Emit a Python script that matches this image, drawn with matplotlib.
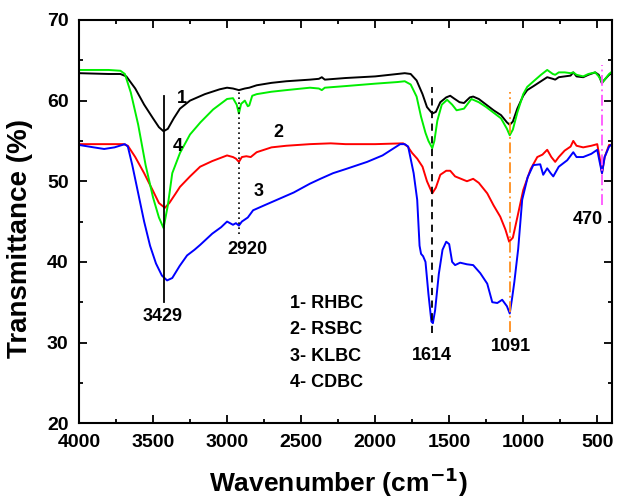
import matplotlib
matplotlib.use("Agg")
import matplotlib.pyplot as plt
from matplotlib.ticker import MultipleLocator

plt.rcParams['font.family'] = ['Liberation Sans', 'DejaVu Sans']
plt.rcParams['font.weight'] = 'bold'

# FTIR spectra, (wavenumber cm-1, transmittance %)
rhbc = [(4000, 63.4), (3800, 63.3), (3720, 63.3), (3680, 63.0), (3620, 61.5), (3560, 59.5),
        (3500, 57.8), (3460, 56.7), (3429, 56.2), (3400, 56.5), (3360, 57.8), (3318, 59.0),
        (3250, 60.0), (3150, 60.8), (3050, 61.4), (3000, 61.6), (2960, 61.5), (2920, 61.3),
        (2880, 61.5), (2850, 61.6), (2800, 61.9), (2700, 62.2), (2600, 62.4), (2440, 62.6),
        (2380, 62.7), (2360, 62.9), (2340, 62.6), (2200, 62.8), (2000, 63.0), (1850, 63.3),
        (1800, 63.4), (1760, 63.3), (1720, 62.5), (1680, 60.8), (1650, 59.2), (1614, 58.4),
        (1590, 58.6), (1560, 59.8), (1520, 60.4), (1493, 60.6), (1470, 60.3), (1430, 59.8),
        (1400, 59.7), (1360, 60.4), (1338, 60.5), (1300, 60.2), (1250, 59.5), (1200, 58.8),
        (1150, 58.2), (1110, 57.3), (1091, 57.0), (1070, 57.4), (1040, 59.0), (1000, 60.6),
        (973, 61.3), (930, 61.8), (880, 62.4), (838, 62.9), (800, 62.7), (784, 62.6),
        (760, 62.9), (720, 63.0), (680, 63.1), (662, 63.5), (640, 63.0), (595, 62.9),
        (560, 63.2), (514, 63.5), (490, 63.2), (470, 62.2), (450, 62.6), (420, 63.2), (400, 63.4)]

rsbc = [(4000, 54.6), (3800, 54.6), (3700, 54.6), (3670, 54.4), (3620, 53.0), (3560, 51.0),
        (3500, 48.8), (3460, 47.3), (3420, 46.7), (3390, 47.3), (3350, 48.4), (3318, 49.3),
        (3250, 50.6), (3182, 51.8), (3100, 52.5), (3000, 53.2), (2960, 53.0), (2940, 52.8),
        (2920, 52.4), (2900, 53.0), (2870, 53.1), (2840, 53.0), (2800, 53.6), (2700, 54.2),
        (2600, 54.4), (2440, 54.6), (2300, 54.7), (2200, 54.6), (2000, 54.6), (1811, 54.7),
        (1780, 54.3), (1750, 53.5), (1716, 52.8), (1680, 51.8), (1650, 50.0), (1614, 48.5),
        (1590, 49.2), (1560, 50.8), (1520, 51.3), (1493, 51.3), (1460, 50.6), (1420, 50.3),
        (1380, 50.0), (1338, 50.3), (1300, 49.8), (1243, 48.5), (1200, 47.0), (1155, 45.6),
        (1120, 44.0), (1095, 42.5), (1070, 43.0), (1040, 45.5), (1000, 48.9), (950, 51.5),
        (905, 53.0), (870, 53.3), (838, 53.9), (810, 53.0), (784, 52.4), (760, 53.0),
        (720, 53.8), (680, 54.3), (662, 55.0), (640, 54.4), (595, 54.2), (540, 54.4),
        (500, 54.6), (480, 52.5), (468, 51.0), (450, 53.0), (420, 54.5), (400, 54.5)]

klbc = [(4000, 54.5), (3900, 54.2), (3830, 54.0), (3760, 54.2), (3690, 54.6), (3670, 54.3),
        (3640, 52.0), (3600, 48.5), (3560, 45.0), (3520, 42.0), (3480, 39.8), (3440, 38.3),
        (3405, 37.7), (3370, 38.0), (3320, 39.5), (3270, 40.8), (3220, 41.5), (3182, 42.1),
        (3100, 43.5), (3040, 44.3), (3000, 45.0), (2960, 44.6), (2940, 44.8), (2920, 44.5),
        (2900, 45.0), (2860, 45.5), (2824, 46.4), (2750, 47.0), (2650, 47.8), (2550, 48.6),
        (2440, 49.7), (2370, 50.3), (2284, 51.0), (2200, 51.5), (2054, 52.4), (1950, 53.2),
        (1831, 54.6), (1800, 54.6), (1777, 54.3), (1740, 51.0), (1716, 47.7), (1700, 42.0),
        (1690, 41.0), (1676, 40.7), (1660, 40.0), (1640, 36.0), (1620, 32.6), (1610, 32.4),
        (1595, 34.0), (1570, 38.5), (1545, 41.5), (1520, 42.5), (1500, 42.2), (1480, 40.0),
        (1460, 39.6), (1426, 39.9), (1380, 39.7), (1338, 39.6), (1290, 38.6), (1243, 37.3),
        (1209, 35.0), (1175, 34.9), (1142, 35.3), (1110, 34.5), (1091, 33.6), (1075, 35.5),
        (1060, 37.5), (1034, 41.6), (1007, 47.7), (970, 50.5), (932, 52.0), (885, 52.1),
        (865, 50.8), (838, 51.6), (815, 51.0), (797, 50.6), (760, 51.8), (703, 52.6),
        (662, 53.6), (640, 53.0), (595, 53.0), (540, 53.4), (500, 53.9), (485, 52.5),
        (468, 51.0), (450, 53.0), (420, 54.3), (400, 54.6)]

cdbc = [(4000, 63.8), (3800, 63.8), (3720, 63.7), (3690, 63.3), (3650, 61.0), (3600, 57.0),
        (3550, 52.0), (3500, 48.0), (3460, 45.5), (3429, 44.2), (3400, 47.0), (3370, 51.0),
        (3318, 53.5), (3250, 55.8), (3180, 57.3), (3094, 58.9), (3000, 60.2), (2960, 60.3),
        (2935, 59.5), (2920, 58.4), (2905, 59.6), (2880, 60.0), (2860, 59.3), (2850, 59.4),
        (2830, 60.6), (2800, 60.8), (2700, 61.1), (2600, 61.3), (2440, 61.6), (2380, 61.5),
        (2360, 61.3), (2340, 61.6), (2200, 61.8), (2000, 62.1), (1850, 62.3), (1800, 62.4),
        (1760, 62.0), (1720, 60.5), (1690, 58.0), (1660, 56.0), (1640, 55.0), (1614, 54.1),
        (1600, 55.0), (1580, 57.5), (1550, 59.5), (1514, 60.1), (1480, 59.5), (1450, 58.8),
        (1400, 59.0), (1350, 60.2), (1300, 59.8), (1250, 59.2), (1200, 58.5), (1150, 57.8),
        (1110, 56.5), (1091, 55.7), (1070, 56.4), (1040, 58.5), (1000, 60.8), (973, 61.7),
        (930, 62.4), (880, 63.2), (838, 63.8), (800, 63.3), (784, 63.2), (760, 63.5),
        (720, 63.5), (680, 63.4), (662, 63.5), (640, 63.2), (595, 63.0), (560, 63.3),
        (514, 63.5), (490, 63.0), (466, 62.2), (450, 62.6), (420, 63.3), (400, 63.6)]

series = [(rhbc, 'black'), (rsbc, 'red'), (klbc, 'blue'), (cdbc, '#00ee00')]
legend_lines = ['1- RHBC', '2- RSBC', '3- KLBC', '4- CDBC']

fig = plt.figure(figsize=(6.17, 4.99), dpi=100)
ax = fig.add_axes([0.128, 0.152, 0.864, 0.808])

for data, col in series:
    xs = [p[0] for p in data]
    ys = [p[1] for p in data]
    ax.plot(xs, ys, color=col, lw=1.4)

# peak markers
ax.plot([3429, 3429], [35.0, 60.6], color='black', lw=1.3)
ax.plot([2920, 2920], [43.5, 61.5], color='black', lw=1.2, ls=(0, (1, 2)))
ax.plot([1614, 1614], [31.2, 61.7], color='black', lw=1.3, ls=(0, (4, 3)))
ax.plot([1091, 1091], [31.3, 61.1], color='#ff8c1a', lw=1.3, ls=(0, (6, 2, 1, 2)))
ax.plot([466, 466], [47.0, 64.4], color='#ff55ff', lw=1.3, ls=(0, (6, 2, 1, 2)))

fs = 13
ax.text(3305, 60.3, '1', fontsize=fs, fontweight='bold', ha='center', va='center')
ax.text(3330, 54.3, '4', fontsize=fs, fontweight='bold', ha='center', va='center')
ax.text(2655, 56.0, '2', fontsize=fs, fontweight='bold', ha='center', va='center')
ax.text(2790, 48.7, '3', fontsize=fs, fontweight='bold', ha='center', va='center')
ax.text(2865, 41.5, '2920', fontsize=fs, fontweight='bold', ha='center', va='center')
ax.text(3432, 33.2, '3429', fontsize=fs, fontweight='bold', ha='center', va='center')
ax.text(1615, 28.4, '1614', fontsize=fs, fontweight='bold', ha='center', va='center')
ax.text(1081, 29.5, '1091', fontsize=fs, fontweight='bold', ha='center', va='center')
ax.text(567, 45.3, '470', fontsize=fs, fontweight='bold', ha='center', va='center')

for i, s in enumerate(legend_lines):
    ax.text(2575, 34.9 - 3.3 * i, s, fontsize=fs, fontweight='bold', ha='left', va='center')

ax.set_xlim(4000, 400)
ax.set_ylim(20, 70)
ax.xaxis.set_major_locator(MultipleLocator(500))
ax.xaxis.set_minor_locator(MultipleLocator(250))
ax.yaxis.set_major_locator(MultipleLocator(10))
ax.yaxis.set_minor_locator(MultipleLocator(5))
ax.tick_params(which='both', direction='in', top=True, right=True, width=1.3, labelsize=14)
ax.tick_params(which='major', length=6)
ax.tick_params(which='minor', length=3)
ax.tick_params(axis='x', pad=8)
ax.tick_params(axis='y', pad=7.5)
for sp in ax.spines.values():
    sp.set_linewidth(1.5)
for lab in ax.get_xticklabels() + ax.get_yticklabels():
    lab.set_fontweight('bold')

ax.set_xlabel('Wavenumber (cm$^{\\mathbf{-1}}$)', fontsize=19, fontweight='bold')
ax.set_ylabel('Transmittance (%)', fontsize=20, fontweight='bold')
ax.xaxis.set_label_coords(0.486, -0.105)
ax.yaxis.set_label_coords(-0.086, 0.459)

fig.savefig('out.png', dpi=100)
